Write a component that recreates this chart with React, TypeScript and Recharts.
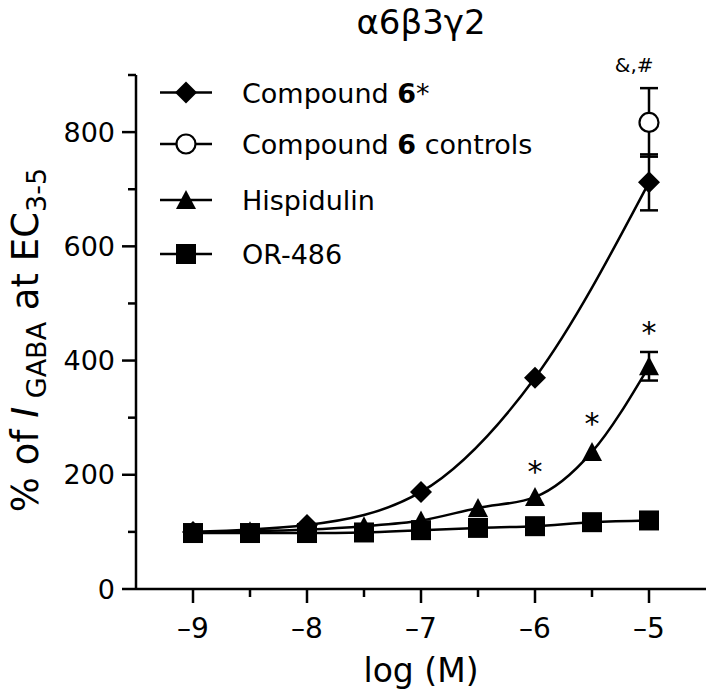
import React from 'react';
import { LineChart, Line, XAxis, YAxis, ErrorBar, Legend, ReferenceDot } from 'recharts';

// log concentrations (M)
const logConc = [-9, -8.5, -8, -7.5, -7, -6.5, -6, -5.5, -5];

const compound6X = [-9, -8, -7, -6, -5];
const compound6 = [100, 112, 170, 370, 712];
const compound6Err = [null, null, null, null, 49];

const controlsX = [-5];
const controls = [817];
const controlsErr = [60];

const hispidulin = [100, 101, 104, 110, 120, 142, 161, 240, 390];
const hispidulinErr = [null, null, null, null, null, null, null, null, 25];

const or486 = [98, 98, 98, 99, 103, 107, 110, 117, 120];

const xTicks = [-9, -8.5, -8, -7.5, -7, -6.5, -6, -5.5, -5];
const yTicks = [0, 100, 200, 300, 400, 500, 600, 700, 800, 900];

// significance marks above points
const noteX = [-6, -5.5, -5, -5.13];
const noteY = [217, 301, 460, 917];
const noteText = ['*', '*', '*', '&,#'];

const legendNames = ['Compound ', 'Compound ', 'Hispidulin', 'OR-486'];

const FONT = "'DejaVu Sans', sans-serif";

const toRows = (xs: number[], ys: number[], errs: (number | null)[]) =>
  xs.map((x, i) => ({ x, y: ys[i], err: errs[i] }));

const c6Data = toRows(compound6X, compound6, compound6Err);
const ctrlData = toRows(controlsX, controls, controlsErr);
const hispData = toRows(logConc, hispidulin, hispidulinErr);
const orData = toRows(logConc, or486, logConc.map(() => null));

const Diamond = ({ cx, cy, s = 11 }: any) => (
  <path d={`M${cx},${cy - s}L${cx + s},${cy}L${cx},${cy + s}L${cx - s},${cy}Z`} fill="#000" />
);
const Triangle = ({ cx, cy }: any) => (
  <path d={`M${cx},${cy - 10}L${cx + 10},${cy + 9}L${cx - 10},${cy + 9}Z`} fill="#000" />
);
const Square = ({ cx, cy }: any) => <rect x={cx - 10} y={cy - 10} width={20} height={20} fill="#000" />;
const OpenCircle = ({ cx, cy }: any) => (
  <circle cx={cx} cy={cy} r={9.5} fill="#fff" stroke="#000" strokeWidth={2.2} />
);

const markers = [Diamond, OpenCircle, Triangle, Square];

const YTick = (props: any) => {
  const { x, y, payload } = props;
  const major = payload.value % 200 === 0;
  return (
    <g>
      <line x1={x - (major ? 14 : 8)} x2={x} y1={y} y2={y} stroke="#000" strokeWidth={2.5} />
      {major && (
        <text x={x - 21} y={y + 9.5} textAnchor="end" fontSize={27} fill="#000" fontFamily={FONT}>
          {payload.value}
        </text>
      )}
    </g>
  );
};

const XTick = (props: any) => {
  const { x, y, payload } = props;
  const v = payload.value;
  const major = Number.isInteger(v);
  return (
    <g>
      <line x1={x} x2={x} y1={y} y2={y + (major ? 14 : 8)} stroke="#000" strokeWidth={2.5} />
      {major && (
        <text x={x} y={y + 49} textAnchor="middle" fontSize={28} fill="#000" fontFamily={FONT}>
          {`${v < 0 ? '–' : ''}${Math.abs(v)}`}
        </text>
      )}
    </g>
  );
};

const YLabel = () => (
  <text
    x={38}
    y={340}
    transform="rotate(-90, 38, 340)"
    textAnchor="middle"
    fontSize={37}
    fill="#000"
    fontFamily={FONT}
  >
    <tspan>% of </tspan>
    <tspan fontStyle="italic">I</tspan>
    <tspan fontSize={27} dy={8}>{' GABA'}</tspan>
    <tspan dy={-8}>{' at EC'}</tspan>
    <tspan fontSize={27} dy={8}>3-5</tspan>
  </text>
);

const XLabel = () => (
  <text x={421} y={682} textAnchor="middle" fontSize={33} fill="#000" fontFamily={FONT}>
    log (M)
  </text>
);

const LegendBlock = () => {
  const rowsY = [22.5, 74, 130, 184];
  return (
    <svg width={420} height={210} style={{ display: 'block' }}>
      {legendNames.map((name, i) => {
        const M = markers[i];
        const cy = rowsY[i];
        return (
          <g key={i}>
            <line x1={10} x2={62} y1={cy} y2={cy} stroke="#000" strokeWidth={2.5} />
            <M cx={36} cy={cy} />
            <text x={92} y={cy + 10} fontSize={27} fill="#000" fontFamily={FONT}>
              {name}
              {i === 0 && (
                <>
                  <tspan fontWeight="bold">6</tspan>
                  <tspan>*</tspan>
                </>
              )}
              {i === 1 && (
                <>
                  <tspan fontWeight="bold">6</tspan>
                  <tspan> controls</tspan>
                </>
              )}
            </text>
          </g>
        );
      })}
    </svg>
  );
};

const renderDot = (M: any, prefix: string) => (props: any) => (
  <M key={`${prefix}-${props.index}`} cx={props.cx} cy={props.cy} />
);

export default function App() {
  return (
    <div style={{ position: 'absolute', left: 0, top: 0, width: 709, height: 697, background: '#fff', fontFamily: FONT }}>
      <div
        style={{
          position: 'absolute',
          left: 221,
          top: 4,
          width: 400,
          textAlign: 'center',
          fontSize: 34,
          lineHeight: '36px',
          color: '#000',
        }}
      >
        α6β3γ2
      </div>
      <LineChart width={709} height={697} margin={{ top: 75, right: 3, left: 0, bottom: 0 }}>
        <XAxis
          type="number"
          dataKey="x"
          domain={[-9.5, -4.5]}
          ticks={xTicks}
          interval={0}
          height={108}
          tickSize={0}
          tickMargin={0}
          tickLine={false}
          tick={<XTick />}
          axisLine={{ stroke: '#000', strokeWidth: 2.5 }}
          allowDuplicatedCategory={false}
          label={<XLabel />}
        />
        <YAxis
          type="number"
          domain={[0, 900]}
          ticks={yTicks}
          interval={0}
          width={136}
          tickSize={0}
          tickMargin={0}
          tickLine={false}
          tick={<YTick />}
          axisLine={{ stroke: '#000', strokeWidth: 2.5 }}
          label={<YLabel />}
        />
        <Legend
          layout="vertical"
          align="center"
          verticalAlign="middle"
          wrapperStyle={{ position: 'absolute', left: 150, top: 70, width: 420, height: 210 }}
          content={() => <LegendBlock />}
        />
        <Line
          data={c6Data}
          dataKey="y"
          name="Compound 6*"
          type="monotone"
          stroke="#000"
          strokeWidth={2.5}
          dot={renderDot(Diamond, 'c6')}
          activeDot={false}
          isAnimationActive={false}
        >
          <ErrorBar dataKey="err" width={9} stroke="#000" strokeWidth={2.5} direction="y" isAnimationActive={false} />
        </Line>
        <Line
          data={hispData}
          dataKey="y"
          name="Hispidulin"
          type="monotone"
          stroke="#000"
          strokeWidth={2.5}
          dot={renderDot(Triangle, 'hi')}
          activeDot={false}
          isAnimationActive={false}
        >
          <ErrorBar dataKey="err" width={9} stroke="#000" strokeWidth={2.5} direction="y" isAnimationActive={false} />
        </Line>
        <Line
          data={orData}
          dataKey="y"
          name="OR-486"
          type="monotone"
          stroke="#000"
          strokeWidth={2.5}
          dot={renderDot(Square, 'or')}
          activeDot={false}
          isAnimationActive={false}
        />
        <Line
          data={ctrlData}
          dataKey="y"
          name="Compound 6 controls"
          stroke="none"
          dot={renderDot(OpenCircle, 'ct')}
          activeDot={false}
          isAnimationActive={false}
        >
          <ErrorBar dataKey="err" width={9} stroke="#000" strokeWidth={2.5} direction="y" isAnimationActive={false} />
        </Line>
        {noteX.map((x, i) => (
          <ReferenceDot
            key={`note-${i}`}
            x={x}
            y={noteY[i]}
            r={1}
            fill="none"
            stroke="none"
            ifOverflow="visible"
            label={(p: any) => {
              const vb = p.viewBox || {};
              const cx = (vb.x ?? 0) + (vb.width ?? 0) / 2;
              const cy = (vb.y ?? 0) + (vb.height ?? 0) / 2;
              const star = noteText[i] === '*';
              return (
                <text
                  x={cx}
                  y={cy + (star ? 17 : 7)}
                  textAnchor="middle"
                  fontSize={star ? 30 : 20}
                  fill="#000"
                  fontFamily={FONT}
                >
                  {noteText[i]}
                </text>
              );
            }}
          />
        ))}
      </LineChart>
    </div>
  );
}
